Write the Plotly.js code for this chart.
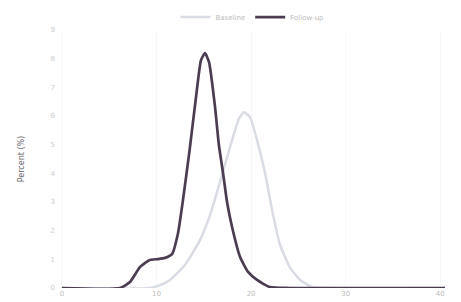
<!DOCTYPE html>
<html>
<head>
<meta charset="utf-8">
<script src="https://cdn.plot.ly/plotly-3.0.1.min.js"></script>
<style>html,body{margin:0;padding:0;background:#fff;}#chart{width:461px;height:302px;}</style>
</head>
<body>
<div id="chart"></div>
<script>
// Series A (light curve)
const xA = [0, 9.3, 10.37, 11.43, 13.0, 14.6, 15.66, 16.93, 17.99, 18.73, 19.26, 19.89, 20.63, 21.48, 22.33, 23.07, 24.13, 25.19, 26.46, 27.8, 40.5];
const yA = [0, 0, 0.1, 0.28, 0.8, 1.67, 2.54, 3.94, 5.16, 5.92, 6.13, 5.96, 5.16, 4.0, 2.54, 1.5, 0.7, 0.28, 0.03, 0, 0];
// Series B (dark curve)
const xB = [0, 6.14, 7.2, 8.25, 9.3, 10.16, 10.9, 11.64, 12.28, 12.8, 13.5, 14.2, 14.7, 15.13, 15.56, 16.19, 16.6, 17.04, 17.46, 17.99, 18.84, 19.68, 20.63, 22.0, 24.1, 40.5];
const yB = [0, 0, 0.21, 0.73, 0.98, 1.01, 1.05, 1.18, 1.92, 3.07, 4.81, 6.72, 7.94, 8.19, 7.87, 6.31, 4.98, 4.0, 3.0, 2.13, 1.08, 0.56, 0.28, 0.03, 0, 0];
const names = ["Baseline", "Follow-up"];
const xTicks = [0, 10, 20, 30, 40];
const yTicks = [0, 1, 2, 3, 4, 5, 6, 7, 8, 9];

const traces = [
  {x: xA, y: yA, name: names[0], type: 'scatter', mode: 'lines', line: {color: '#d9dce4', width: 2.5, shape: 'spline', smoothing: 0.5}},
  {x: xB, y: yB, name: names[1], type: 'scatter', mode: 'lines', line: {color: '#4b3c52', width: 2.7, shape: 'spline', smoothing: 0.5}}
];
const layout = {
  width: 461, height: 302,
  margin: {l: 60, r: 16, t: 30, b: 14, autoexpand: false},
  paper_bgcolor: '#fff', plot_bgcolor: '#fff',
  font: {family: 'DejaVu Sans', size: 7, color: '#bbb'},
  showlegend: true,
  legend: {orientation: 'h', x: 0.5, xanchor: 'center', y: 1.05, yanchor: 'middle', font: {size: 7, color: '#bbb'}},
  xaxis: {range: [-0.2, 40.5], tickvals: xTicks, showgrid: true, gridcolor: '#f8f8f8', zeroline: false, showline: false, ticks: '', tickfont: {size: 7, color: '#bbb'}},
  yaxis: {range: [0, 9], tickvals: yTicks, showgrid: false, zeroline: false, showline: false, ticks: '', ticklabelstandoff: 4, tickfont: {size: 7, color: '#ccc'},
          title: {text: 'Percent (%)', font: {size: 8, color: '#666'}, standoff: 24}}
};
Plotly.newPlot('chart', traces, layout, {displayModeBar: false, staticPlot: true});
</script>
</body>
</html>
